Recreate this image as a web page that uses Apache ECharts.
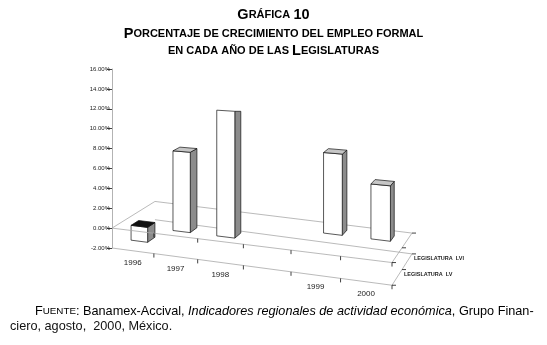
<!DOCTYPE html>
<html>
<head>
<meta charset="utf-8">
<style>html,body{margin:0;padding:0;background:#fff}#chart{width:547px;height:345px}</style>
<script src="https://cdn.jsdelivr.net/npm/echarts@6/dist/echarts.min.js"></script>
</head>
<body>
<div id="chart"></div>
<script>
const years = ['1996', '1997', '1998', '', '1999', '2000'];
const legislaturaLV = [-1.5, 7.9, 12.2, null, null, null];
const legislaturaLVI = [null, null, null, null, 7.8, 5.2];
const depthLabels = ['LEGISLATURA  LV', 'LEGISLATURA  LVI'];
const yMin = -2, yMax = 16, yStep = 2;
const cutTopYear = '1998'; // the top of this column is cut off in the original

// fake 3d: front plane comes from the grid, then warped with a little perspective
const VP = [636, -97];     // where the depth lines meet
const DEPTH = 0.082;
const WARP = 0.123;
const SLOPE = 0.123, SLOPE_STEP = 0.005;
const FONT = '"Liberation Sans", Arial, sans-serif';

function project(api, X, Y, Z) {
  const o = api.coord([0, Y]);
  const c = api.coord([X, Y]);
  const L = api.coord([years.length, Y])[0] - o[0];
  const p = c[0] - o[0];
  const px = p * (1 - WARP) + WARP * p * p / L;
  const x = o[0] + px;
  const y = c[1] + (SLOPE - SLOPE_STEP * Y) * px;
  const f = DEPTH * Z;
  return [x + (VP[0] - x) * f, y + (VP[1] - y) * f];
}

const bars = [];
legislaturaLVI.forEach((v, i) => { if (v != null) bars.push([i, v, 1]); });
legislaturaLV.forEach((v, i) => { if (v != null) bars.push([i, v, 0]); });

const gridLine = { stroke: '#a8a8a8', lineWidth: 0.8 };
const tickLine = { stroke: '#111', lineWidth: 0.8 };

function line(a, b, style) {
  return { type: 'line', shape: { x1: a[0], y1: a[1], x2: b[0], y2: b[1] }, style: style };
}

function renderBack(params, api) {
  const n = years.length;
  const P = (X, Y, Z) => project(api, X, Y, Z);
  return {
    type: 'group',
    children: [
      line(P(0, 0, 0), P(0, 0, 1), gridLine),
      line(P(0, 0, 1), P(n, 0, 1), gridLine),
      line(P(0, yMin, 1), P(n, yMin, 1), gridLine)
    ]
  };
}

function renderBar(params, api) {
  const i = api.value(0), v = api.value(1), row = api.value(2);
  const xa = i + 0.3, xb = i + 0.7;
  const za = row * 0.5 + 0.16, zb = za + 0.18;
  const lo = Math.min(0, v), hi = Math.max(0, v);
  const P = (X, Y, Z) => project(api, X, Y, Z);
  const edge = { stroke: '#111', lineWidth: 0.7 };
  const cut = years[i] === cutTopYear;
  // side face; a cut column ends flat at the height of its front top corner
  const sideTop = P(xb, hi, zb);
  if (cut) sideTop[1] = P(xb, hi, za)[1];
  const children = [
    { type: 'polygon', shape: { points: [P(xb, lo, za), P(xb, lo, zb), sideTop, P(xb, hi, za)] },
      style: Object.assign({ fill: '#8c8c8c' }, edge) },
    { type: 'polygon', shape: { points: [P(xa, lo, za), P(xb, lo, za), P(xb, hi, za), P(xa, hi, za)] },
      style: Object.assign({ fill: '#fff' }, edge) }
  ];
  if (!cut) {
    children.push({ type: 'polygon', shape: { points: [P(xa, hi, za), P(xb, hi, za), P(xb, hi, zb), P(xa, hi, zb)] },
      style: Object.assign({ fill: v < 0 ? '#111' : '#c6c6c6' }, edge) });
  }
  return { type: 'group', children: children };
}

function renderFront(params, api) {
  const n = years.length;
  const P = (X, Y, Z) => project(api, X, Y, Z);
  const children = [];
  [0, yMin].forEach(Y => {
    children.push(line(P(0, Y, 0), P(n, Y, 0), gridLine));
    children.push(line(P(n, Y, 0), P(n, Y, 1), gridLine));
    for (let k = 1; k <= n; k++) {
      const a = P(k, Y, 0);
      children.push(line(a, [a[0], a[1] + 4], tickLine));
    }
    [0, 0.5, 1].forEach(z => {
      const a = P(n, Y, z);
      children.push(line(a, [a[0] + 4, a[1]], tickLine));
    });
  });
  years.forEach((y, k) => {
    const a = P(k + 0.5, yMin, 0);
    children.push({ type: 'text', style: { text: y, x: a[0], y: a[1] + 12, fill: '#222',
      font: '8px ' + FONT, align: 'center', verticalAlign: 'middle', textAlign: 'center', textVerticalAlign: 'middle' } });
  });
  depthLabels.forEach((t, r) => {
    const a = P(n, yMin, r * 0.5 + 0.25);
    children.push({ type: 'text', style: { text: t, x: a[0] + 7, y: a[1] - 3, fill: '#222',
      font: 'bold 5.5px ' + FONT, align: 'left', verticalAlign: 'middle', textAlign: 'left', textVerticalAlign: 'middle' } });
  });
  return { type: 'group', children: children };
}

const chart = echarts.init(document.getElementById('chart'));
const big = { fontFamily: FONT, fontWeight: 'bold', fontSize: 14.5, color: '#111' };
const small = { fontFamily: FONT, fontWeight: 'bold', fontSize: 11, color: '#111' };
const foot = { fontFamily: FONT, fontSize: 12.7, color: '#111' };
chart.setOption({
  animation: false,
  backgroundColor: '#fff',
  grid: { left: 112, right: 155, top: 69, bottom: 97 },
  xAxis: { type: 'value', min: 0, max: years.length, show: false },
  yAxis: {
    type: 'value', min: yMin, max: yMax, interval: yStep,
    axisLine: { show: true, lineStyle: { color: '#a0a0a0', width: 0.8 } },
    axisTick: { show: true, length: 5, lineStyle: { color: '#111', width: 0.8 } },
    axisLabel: { fontSize: 6, color: '#222', margin: 2, fontFamily: FONT, formatter: v => v.toFixed(2) + '%' },
    splitLine: { show: false }
  },
  series: [
    { type: 'custom', renderItem: renderBack, data: [[0, 0]], z: 1, silent: true },
    { type: 'custom', renderItem: renderBar, data: bars, encode: { x: 0, y: 1 }, z: 2, silent: true },
    { type: 'custom', renderItem: renderFront, data: [[0, 0]], z: 3, silent: true }
  ],
  graphic: [
    { type: 'text', left: 'center', top: 7, style: { text: '{b|G}{s|RÁFICA} {b|10}', rich: { b: big, s: small } } },
    { type: 'text', left: 'center', top: 26, style: { text: '{b|P}{s|ORCENTAJE DE CRECIMIENTO DEL EMPLEO FORMAL}', rich: { b: big, s: small } } },
    { type: 'text', left: 'center', top: 43, style: { text: '{s|EN CADA AÑO DE LAS }{b|L}{s|EGISLATURAS}', rich: { b: big, s: small } } },
    { type: 'text', left: 35, top: 305, style: {
      text: '{n|F}{fs|UENTE}{n|: Banamex-Accival, }{i|Indicadores regionales de actividad económica}{n|, Grupo Finan-}',
      rich: {
        n: foot,
        fs: Object.assign({}, foot, { fontSize: 9.8 }),
        i: Object.assign({}, foot, { fontStyle: 'italic' })
      } } },
    { type: 'text', left: 10, top: 320, style: { text: 'ciero, agosto,  2000, México.', font: '12.7px ' + FONT, fill: '#111' } }
  ]
});
</script>
</body>
</html>
